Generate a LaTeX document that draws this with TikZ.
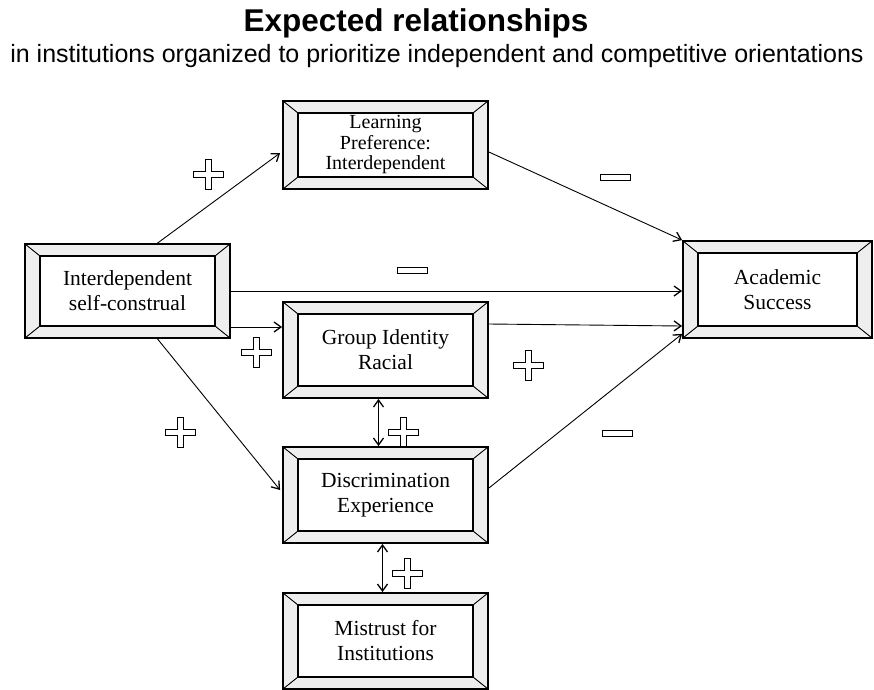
\documentclass[tikz,border=0pt]{standalone}
\usepackage{fontspec}
\setmainfont{Liberation Serif}
\newfontfamily\headfont{Liberation Sans}
\usepackage{tikz}
\usetikzlibrary{arrows.meta,calc}
\definecolor{bevelcol}{RGB}{238,238,238}
\tikzset{
  bevel/.style   ={rectangle, draw=black, line width=1.8pt, fill=bevelcol,
                   align=center, minimum width=205pt, minimum height=96pt,
                   font=\fontsize{21.5}{25}\selectfont, inner sep=0pt,
                   path picture={
                     \draw[line width=1.2pt, fill=white]
                       ($(path picture bounding box.south west)+(15pt,12pt)$) rectangle
                       ($(path picture bounding box.north east)+(-15pt,-12pt)$);
                     \draw[line width=0.9pt]
                       (path picture bounding box.south west) -- ++(15pt,12pt)
                       (path picture bounding box.south east) -- ++(-15pt,12pt)
                       (path picture bounding box.north west) -- ++(15pt,-12pt)
                       (path picture bounding box.north east) -- ++(-15pt,-12pt);
                   }},
  flow/.style    ={-{Straight Barb[length=7pt,width=10pt,line width=1.3pt]}, line width=0.9pt},
  both/.style    ={{Straight Barb[length=7pt,width=10pt,line width=1.3pt]}-{Straight Barb[length=7pt,width=10pt,line width=1.3pt]}, line width=0.9pt},
  plussign/.pic  ={\draw[line width=0.8pt] (-3,-15) -- (3,-15) -- (3,-3) -- (15,-3) -- (15,3) -- (3,3)
                     -- (3,15) -- (-3,15) -- (-3,3) -- (-15,3) -- (-15,-3) -- (-3,-3) -- cycle;},
  minussign/.pic ={\draw[line width=0.8pt] (-15,-3) rectangle (15,3);},
}

\begin{document}
\begin{tikzpicture}[x=1pt,y=-1pt]
    \useasboundingbox (0,0) rectangle (874,689);

    % heading
    \node[font=\headfont\bfseries\fontsize{31.5}{36}\selectfont] (title) at (416,23) {Expected relationships};
    \node[font=\headfont\fontsize{25}{28}\selectfont] (subtitle) at (437,56)
        {in institutions organized to prioritize independent and competitive orientations};

    % boxes
    \node[bevel, minimum height=94pt] (self) at (127.5,291) {Interdependent\\self-construal};
    \node[bevel, minimum height=88pt, font=\fontsize{20}{20.5}\selectfont] (learn) at (385.5,145)
        {Learning\\Preference:\\Interdependent};
    \node[bevel] (group) at (385.5,350) {Group Identity\\Racial};
    \node[bevel] (disc) at (385.5,495) {Discrimination\\Experience};
    \node[bevel] (mistrust) at (385.5,641) {Mistrust for\\Institutions};
    \node[bevel, minimum width=189pt, minimum height=97pt] (acad) at (777.5,289.5) {Academic\\Success};

    % paths
    \draw[flow] ($(self.north)+(30,0)$) -- ($(learn.west)+(-2,8)$);
    \draw[flow] (self.east) -- (self.east -| acad.west);
    \draw[flow] ($(self.east)+(0,36)$) coordinate (g0) -- (g0 -| group.west);
    \draw[flow] ($(self.south)+(30,0)$) -- ($(disc.west)+(-2,-5)$);
    \draw[flow] ($(learn.east)+(0,7)$) -- (acad.north west);
    \draw[flow] ($(group.east)+(0,-26)$) coordinate (g1) -- ($(g1 -| acad.west)+(0,2)$);
    \draw[flow] ($(disc.east)+(0,-7)$) -- ($(acad.south west)+(0,-5)$);
    \draw[both] ($(group.south)+(-7,0)$) -- ($(disc.north)+(-7,0)$);
    \draw[both] ($(disc.south)+(-3,0)$) -- ($(mistrust.north)+(-3,0)$);

    % signs
    \pic at (208,174) {plussign};
    \pic at (256,352) {plussign};
    \pic at (180,432) {plussign};
    \pic at (528,365) {plussign};
    \pic at (403,432) {plussign};
    \pic at (407,573) {plussign};
    \pic at (615,177) {minussign};
    \pic at (412,270) {minussign};
    \pic at (617,433) {minussign};
\end{tikzpicture}
\end{document}
